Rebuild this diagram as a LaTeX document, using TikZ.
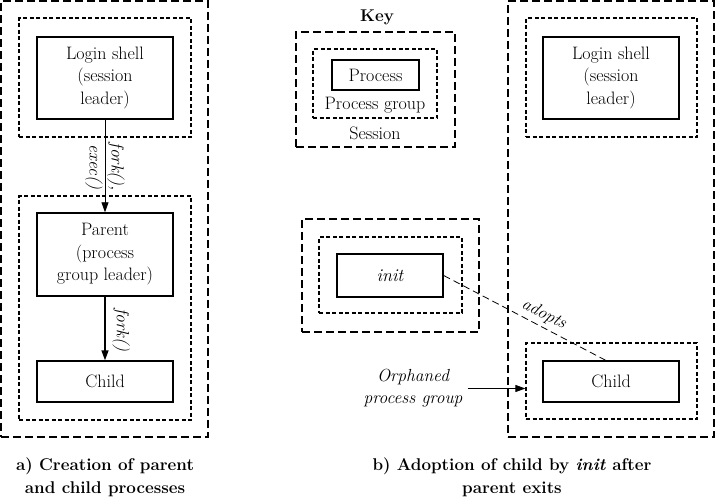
\documentclass[tikz,border=0pt]{standalone}
\usetikzlibrary{arrows.meta}
\begin{document}
\begin{tikzpicture}[x=1pt,y=-1pt,
  proc/.style={draw, line width=1.4pt, align=center, inner sep=0pt, font=\fontsize{18}{22.5}\selectfont},
  pgroup/.style={draw, line width=1.2pt, dash pattern=on 4pt off 2.5pt, inner sep=0pt},
  sess/.style={draw, line width=1.4pt, dash pattern=on 8pt off 4pt, inner sep=0pt},
  txt/.style={font=\fontsize{18}{22.5}\selectfont, inner sep=0pt},
  lbl/.style={font=\fontsize{17.5}{22}\selectfont\itshape, align=center},
  captext/.style={font=\fontsize{17}{23}\selectfont\bfseries, align=center},
  arr/.style={-{Triangle[length=10pt,width=7pt]}}]
\useasboundingbox (0,0) rectangle (716,498);

% ---- panel a ----
\node[sess, minimum width=207pt, minimum height=436pt] (sA) at (104.5,219) {};
\node[pgroup, minimum width=172pt, minimum height=119pt] (gA1) at (105,77.5) {};
\node[proc, minimum width=136pt, minimum height=82pt] (loginA) at (105,78) {Login shell\\(session\\leader)};
\node[pgroup, minimum width=172pt, minimum height=224pt] (gA2) at (105,308) {};
\node[proc, minimum width=136pt, minimum height=83pt] (parent) at (105,254.5) {Parent\\(process\\group leader)};
\node[proc, minimum width=136pt, minimum height=41pt] (childA) at (105,381.5) {Child};
\draw[arr, line width=0.8pt] (loginA.south) -- (parent.north);
\node[lbl, rotate=-90] (l1) at (105,167) {fork(),\\exec()};
\draw[arr, line width=1.4pt] (parent.south) -- (childA.north);
\node[lbl, rotate=-90, anchor=south] (l2) at (109,330) {fork()};
\node[captext] (capA) at (105,477.5) {a) Creation of parent\\and child processes};

% ---- key ----
\node[captext] (key) at (377,17) {Key};
\node[sess, minimum width=159pt, minimum height=115pt] (kS) at (375.5,89.5) {};
\node[pgroup, minimum width=124pt, minimum height=69pt] (kG) at (375,83.5) {};
\node[proc, minimum width=87pt, minimum height=30pt] (kP) at (375.5,75) {Process};
\node[txt] (kGt) at (375,105) {Process group};
\node[txt] (kSt) at (375,133) {Session};

% ---- init ----
\node[sess, minimum width=177pt, minimum height=113pt] (iS) at (390.5,275.5) {};
\node[pgroup, minimum width=143pt, minimum height=76pt] (iG) at (390.5,275) {};
\node[proc, minimum width=106pt, minimum height=43pt, font=\fontsize{18}{22.5}\selectfont\itshape] (init) at (390,275.5) {init};

% ---- panel b ----
\node[sess, minimum width=206pt, minimum height=436pt] (sB) at (611,219) {};
\node[pgroup, minimum width=171pt, minimum height=119pt] (gB1) at (611.5,77.5) {};
\node[proc, minimum width=136pt, minimum height=82pt] (loginB) at (611,78) {Login shell\\(session\\leader)};
\node[pgroup, minimum width=171pt, minimum height=76pt] (gB2) at (611.5,381) {};
\node[proc, minimum width=136pt, minimum height=41pt] (childB) at (611,381.5) {Child};
\coordinate (cB) at (607,361);
\draw[line width=0.8pt, dash pattern=on 7pt off 4pt] (init.east) -- node[lbl, pos=0.58, sloped, above, inner sep=4pt] {adopts} (cB);
\node[lbl, inner sep=2pt] (orph) at (413,388.5) {Orphaned\\process group};
\coordinate (oS) at ([xshift=3pt]orph.east);
\draw[arr, line width=0.8pt] (oS) -- (oS -| gB2.west);
\node[captext] (capB) at (512,477.5) {b) Adoption of child by \textit{init} after\\parent exits};
\end{tikzpicture}
\end{document}
